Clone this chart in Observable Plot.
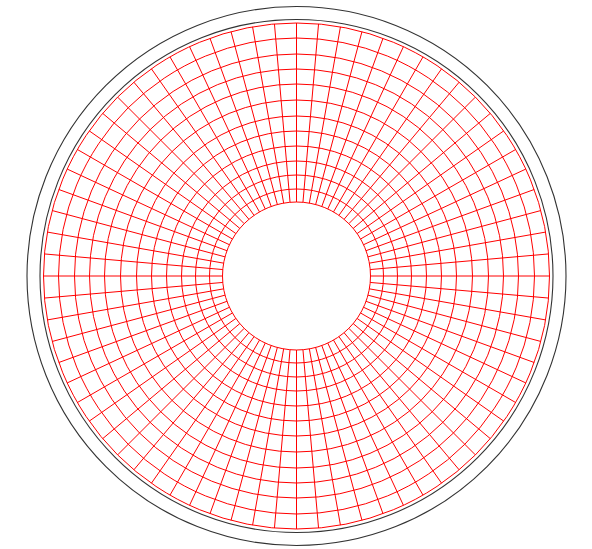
<!DOCTYPE html>
<html>
<head>
<meta charset="utf-8">
<script src="https://cdn.jsdelivr.net/npm/d3@7"></script>
<script src="https://cdn.jsdelivr.net/npm/@observablehq/plot@0.6"></script>
<style>
  html, body { margin: 0; padding: 0; background: #fff; }
  svg { display: block; }
</style>
</head>
<body>
<div id="chart"></div>
<script>
// Radii of the red concentric rings (inner hole edge to outer edge)
const ringRadii = [74, 87, 101, 115, 130, 145, 160, 176, 192, 207, 222, 238, 253];
// Radii of the two black outline circles
const outlineRadii = [256.5, 269.5];
// Angles (degrees) of the radial spokes
const spokeAngles = [0, 5, 10, 15, 20, 25, 30, 35, 40, 45, 50, 55, 60, 65, 70, 75, 80, 85,
  90, 95, 100, 105, 110, 115, 120, 125, 130, 135, 140, 145, 150, 155, 160, 165, 170, 175,
  180, 185, 190, 195, 200, 205, 210, 215, 220, 225, 230, 235, 240, 245, 250, 255, 260, 265,
  270, 275, 280, 285, 290, 295, 300, 305, 310, 315, 320, 325, 330, 335, 340, 345, 350, 355];

const rInner = ringRadii[0];
const rOuter = ringRadii[ringRadii.length - 1];
const rad = (a) => a * Math.PI / 180;

const chart = Plot.plot({
  width: 592,
  height: 549,
  margin: 0,
  x: {domain: [-296, 296], range: [0, 592], axis: null},
  y: {domain: [-273.5, 275.5], range: [549, 0], axis: null},
  r: {type: "identity"},
  marks: [
    Plot.link(spokeAngles, {
      x1: (a) => rInner * Math.cos(rad(a)),
      y1: (a) => rInner * Math.sin(rad(a)),
      x2: (a) => rOuter * Math.cos(rad(a)),
      y2: (a) => rOuter * Math.sin(rad(a)),
      stroke: "#ff0000",
      strokeWidth: 1
    }),
    Plot.dot(ringRadii, {x: () => 0, y: () => 0, r: (d) => d, fill: "none", stroke: "#ff0000", strokeWidth: 1}),
    Plot.dot(outlineRadii, {x: () => 0, y: () => 0, r: (d) => d, fill: "none", stroke: "#333", strokeWidth: 1.1})
  ]
});
document.getElementById("chart").appendChild(chart);
</script>
</body>
</html>
